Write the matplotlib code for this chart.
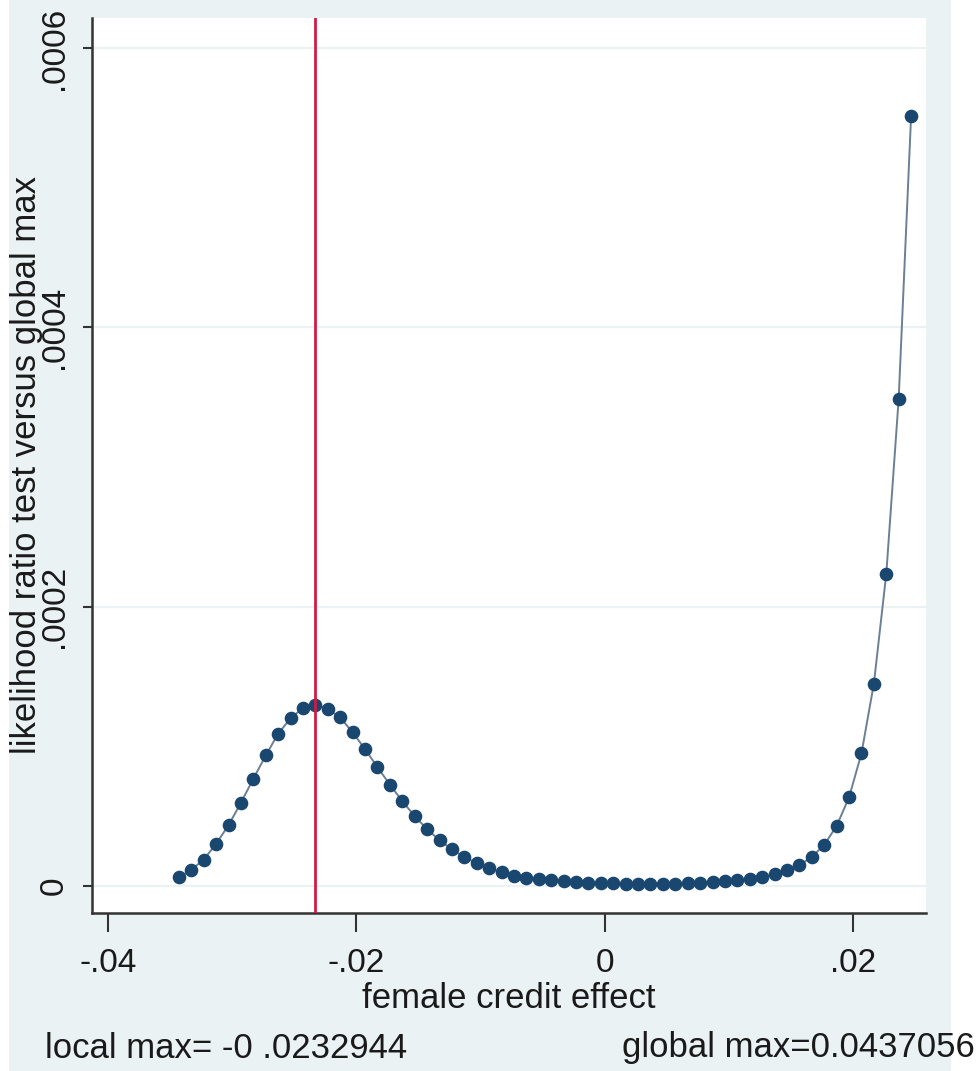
import matplotlib
matplotlib.use("Agg")
import matplotlib.pyplot as plt
from matplotlib.patches import Rectangle

plt.rcParams["font.family"] = ["Liberation Sans", "DejaVu Sans"]

# Grid of female credit effect values (step .001 around the local max)
effect = [-0.0343, -0.0333, -0.0323, -0.0313, -0.0303, -0.0293, -0.0283, -0.0273,
          -0.0263, -0.0253, -0.0243, -0.0233, -0.0223, -0.0213, -0.0203, -0.0193,
          -0.0183, -0.0173, -0.0163, -0.0153, -0.0143, -0.0133, -0.0123, -0.0113,
          -0.0103, -0.0093, -0.0083, -0.0073, -0.0063, -0.0053, -0.0043, -0.0033,
          -0.0023, -0.0013, -0.0003, 0.0007, 0.0017, 0.0027, 0.0037, 0.0047,
          0.0057, 0.0067, 0.0077, 0.0087, 0.0097, 0.0107, 0.0117, 0.0127,
          0.0137, 0.0147, 0.0157, 0.0167, 0.0177, 0.0187, 0.0197, 0.0207,
          0.0217, 0.0227, 0.0237, 0.0247]

# Likelihood ratio test versus global max
lr_test = [6.2e-6, 1.15e-5, 1.89e-5, 3.01e-5, 4.35e-5, 5.95e-5, 7.67e-5, 9.34e-5,
           1.09e-4, 1.20e-4, 1.274e-4, 1.297e-4, 1.267e-4, 1.206e-4, 1.099e-4, 9.8e-5,
           8.5e-5, 7.26e-5, 6.07e-5, 5.0e-5, 4.06e-5, 3.27e-5, 2.63e-5, 2.06e-5,
           1.63e-5, 1.27e-5, 9.8e-6, 7.2e-6, 5.9e-6, 5.0e-6, 4.1e-6, 3.4e-6,
           2.9e-6, 2.4e-6, 1.9e-6, 1.9e-6, 1.6e-6, 1.6e-6, 1.6e-6, 1.6e-6,
           1.6e-6, 1.9e-6, 2.4e-6, 2.9e-6, 3.4e-6, 4.1e-6, 5.0e-6, 6.2e-6,
           8.4e-6, 1.12e-5, 1.48e-5, 2.08e-5, 2.94e-5, 4.3e-5, 6.34e-5, 9.49e-5,
           1.448e-4, 2.235e-4, 3.49e-4, 5.515e-4]

local_max = -0.0232944
global_max = 0.0437056

xticks = [-0.04, -0.02, 0, 0.02]
xtick_labels = ["-.04", "-.02", "0", ".02"]
yticks = [0, 0.0002, 0.0004, 0.0006]
ytick_labels = ["0", ".0002", ".0004", ".0006"]

bg = "#EAF2F3"
navy = "#1a476f"

fig = plt.figure(figsize=(9.8, 10.71), dpi=100, facecolor="white")
fig.patches.append(Rectangle((9 / 980, 0), (951 - 9) / 980, 1, transform=fig.transFigure,
                             facecolor=bg, edgecolor="none", zorder=-10))

ax = fig.add_axes([92 / 980, 1 - 913 / 1071, (926 - 92) / 980, (913 - 18) / 1071])
ax.set_facecolor("white")

ax.plot(effect, lr_test, color="#6b7f96", lw=1.4, zorder=3)
ax.plot(effect, lr_test, "o", color=navy, ms=8.8, mec=navy, zorder=4)
ax.axvline(local_max, color="#d01c45", lw=2, zorder=5)

ax.set_xlim(-0.0413, 0.0259)
ax.set_ylim(-0.0000194, 0.0006215)

ax.set_xticks(xticks)
ax.set_xticklabels(xtick_labels)
ax.set_yticks(yticks)
ax.set_yticklabels(ytick_labels, rotation=90, va="center")

ax.grid(axis="y", color=bg, lw=1.6, zorder=0)
ax.set_axisbelow(True)
for s in ["top", "right"]:
    ax.spines[s].set_visible(False)
for s in ["left", "bottom"]:
    ax.spines[s].set_color("#333333")
    ax.spines[s].set_linewidth(1.8)

ax.tick_params(axis="both", direction="out", width=1.5, color="#333333",
               labelsize=24, labelcolor="#1a1a1a")
ax.tick_params(axis="x", length=14, pad=11)
ax.tick_params(axis="y", length=6.5, pad=9.5)

ax.set_xlabel("female credit effect", fontsize=25, color="#1a1a1a", labelpad=2)
ax.set_ylabel("likelihood ratio test versus global max", fontsize=25, color="#1a1a1a",
              labelpad=-3)

fig.text(45 / 980, 1 - 1048 / 1071, "local max= -0 .0232944", fontsize=25,
         color="#1a1a1a", ha="left", va="center")
fig.text(975 / 980, 1 - 1048 / 1071, "global max=0.0437056", fontsize=25,
         color="#1a1a1a", ha="right", va="center")

fig.savefig("out.png", dpi=100, facecolor=fig.get_facecolor())
